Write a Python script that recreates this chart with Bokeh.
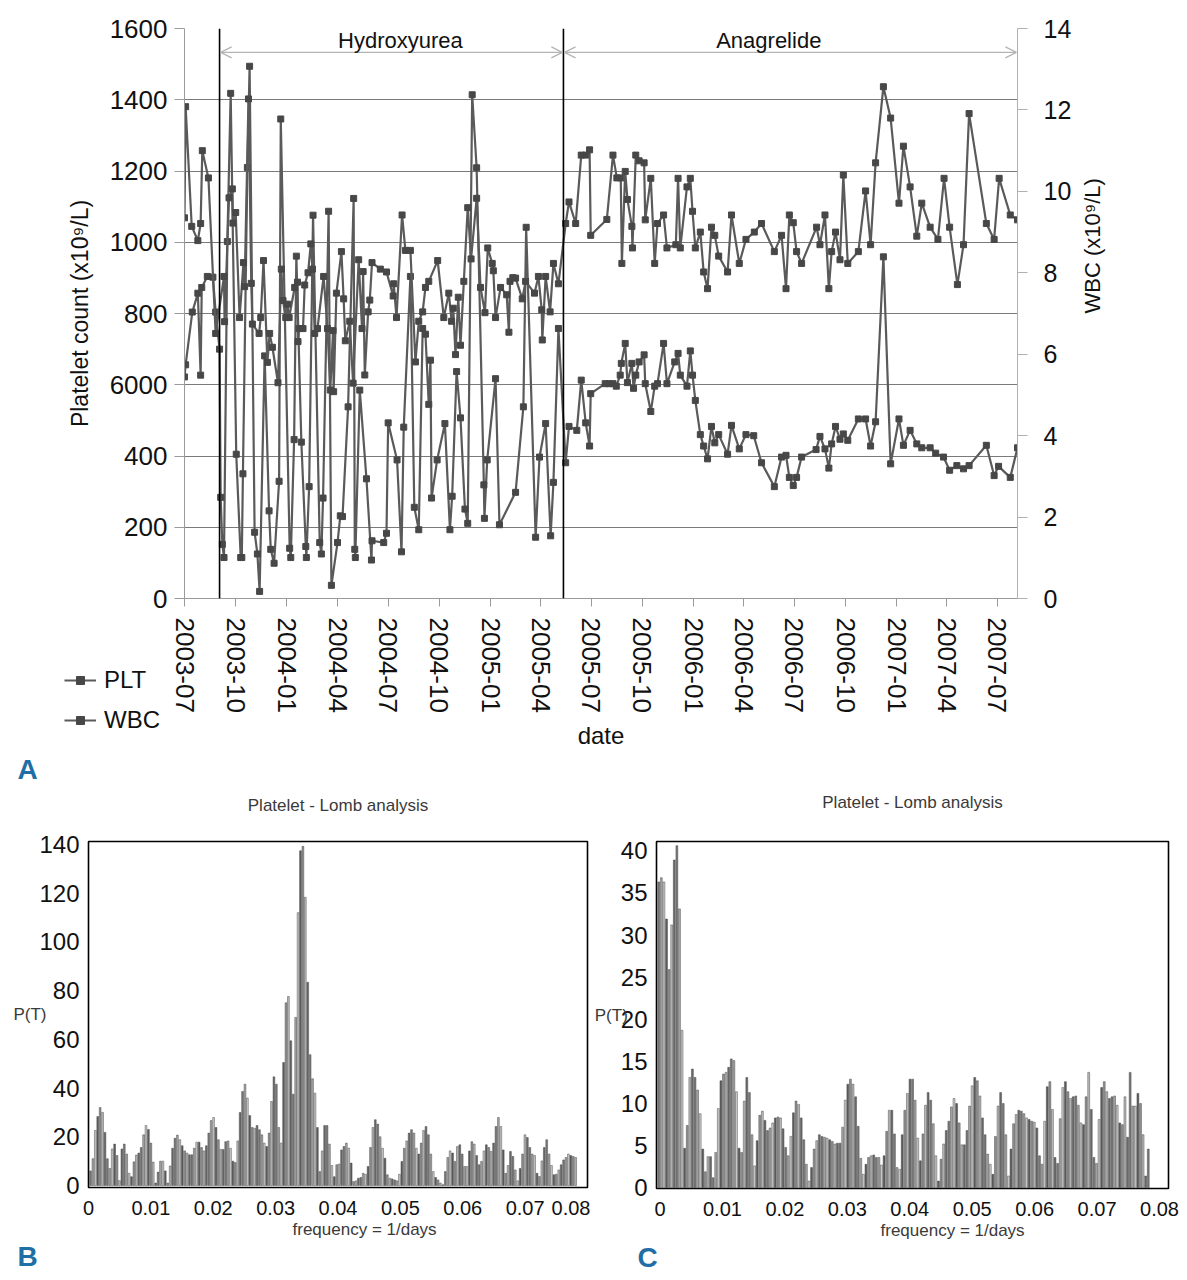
import math
import numpy as np
import pandas as pd
from bokeh.plotting import figure
from bokeh.models import (Range1d, LinearAxis, FixedTicker, Span, Label, Arrow, OpenHead,
                          Legend, LegendItem, Title)
from bokeh.layouts import column, row
from bokeh.embed import file_html
from bokeh.resources import INLINE

FONT = "Liberation Sans"

# ---------------- data: panel A ----------------
start_date = "2003-07-01"
hu_start_date = "2003-09-02"
ana_start_date = "2005-05-12"
end_date = "2007-08-06"
tick_labels = ["2003-07", "2003-10", "2004-01", "2004-04", "2004-07", "2004-10",
               "2005-01", "2005-04", "2005-07", "2005-10", "2006-01", "2006-04",
               "2006-07", "2006-10", "2007-01", "2007-04", "2007-07"]

# days after start_date
plt_day = [0, 2, 14, 24, 29, 31, 41, 51, 56, 63, 65, 68, 71, 77, 83, 93, 101, 103, 105, 113,
           117, 126, 131, 135, 144, 152, 155, 161, 170, 173, 189, 191, 197, 201, 210, 218, 219, 224, 231, 243,
           246, 249, 259, 264, 275, 280, 284, 294, 304, 306, 307, 315, 327, 336, 337, 358, 363, 366, 382, 390,
           394, 406, 413, 421, 428, 433, 439, 442, 444, 454, 468, 477, 481, 489, 496, 504, 509, 517, 525, 538,
           539, 544, 559, 566, 595, 609, 614, 631, 638, 649, 658, 663, 672,
           685, 691, 705, 713, 721, 728, 730, 756, 763, 770, 776, 783, 785, 792, 796, 804, 807, 811, 817, 826,
           828, 838, 845, 850, 861, 867, 881, 887, 891, 903, 909, 913, 918, 927, 933, 940, 947, 953, 960, 976,
           983, 997, 1009, 1023, 1037, 1060, 1073, 1081, 1087, 1094, 1100, 1109, 1135, 1142, 1151, 1158, 1163,
           1170, 1178, 1184, 1192, 1211, 1224, 1233, 1242, 1256, 1269, 1284, 1292, 1304, 1316, 1325, 1340, 1350,
           1364, 1375, 1388, 1400, 1410, 1441, 1455, 1463, 1484, 1497]
plt_val = [622, 656, 804, 857, 627, 873, 904, 902, 804, 700, 284, 152, 115, 1002, 1418, 405, 115, 115, 350, 1210,
           1494, 186, 125, 20, 681, 246, 138, 99, 329, 1346, 141, 115, 446, 961, 439, 146, 115, 314, 1076, 157,
           125, 282, 1087, 37, 157, 232, 230, 538, 1123, 138, 115, 585, 336, 108, 162, 157, 183, 493, 389, 131,
           481, 904, 256, 193, 758, 742, 545, 669, 282, 389, 491, 193, 287, 637, 507, 251, 211, 1414, 1209, 319,
           225, 389, 617, 207, 298, 538, 1042, 172, 397, 491, 176, 326, 758,
           381, 483, 472, 613, 493, 428, 575, 603, 603, 603, 596, 627, 660, 716, 606, 660, 590, 627, 664, 684,
           603, 525, 596, 603, 716, 603, 664, 688, 627, 596, 695, 627, 556, 460, 428, 392, 483, 437, 460, 405,
           486, 420, 460, 457, 381, 314, 397, 402, 340, 317, 340, 397, 418, 455, 420, 366, 434, 483, 447, 462,
           444, 504, 504, 428, 496, 959, 378, 504, 430, 472, 434, 423, 423, 408, 397, 360, 373, 364, 373, 430,
           345, 371, 340, 423]

wbc_day = [0, 2, 13, 24, 29, 32, 43, 56,
           71, 72, 80, 86, 87, 92, 99, 106, 108, 115, 120, 122, 134, 137, 142, 149, 153, 158, 168, 174,
           177, 182, 185, 188, 198, 203, 204, 206, 213, 216, 222, 227, 230, 234, 239, 250, 257, 262, 267, 268,
           273, 282, 286, 289, 297, 303, 313, 319, 321, 324, 330, 333, 337, 352, 363, 375, 376, 381, 391, 397,
           406, 415, 421, 428, 433, 439, 455, 466, 475, 480, 483, 487, 492, 496, 502, 509, 515, 525, 532, 540,
           545, 553, 555, 559, 568, 579, 583, 585, 590, 595, 607, 613, 629, 636, 642, 643, 649, 657, 663, 672,
           685, 691, 703, 713, 721, 728, 730, 759, 770, 777, 784, 786, 792, 796, 804, 805, 811, 817, 826, 828,
           838, 845, 850, 861, 867, 883, 887, 891, 903, 909, 913, 918, 927, 933, 940, 947, 953, 960, 976, 983,
           997, 1009, 1024, 1037, 1060, 1073, 1081, 1087, 1094, 1100, 1109, 1136, 1142, 1151, 1158, 1163, 1170,
           1178, 1184, 1192, 1211, 1224, 1233, 1242, 1256, 1269, 1284, 1292, 1304, 1316, 1325, 1340, 1354, 1365,
           1375, 1389, 1400, 1410, 1441, 1455, 1464, 1484, 1497]
wbc_val = [9.35, 12.08, 9.14, 8.79, 9.21, 11.0, 10.33, 6.51,
           7.91, 6.8, 9.84, 10.06, 9.22, 9.48, 6.9, 8.25, 7.66, 12.27, 7.74, 6.74, 6.51, 6.9, 8.3, 5.8, 6.51,
           6.17, 5.3, 8.09, 7.32, 6.9, 7.23, 6.9, 7.64, 7.77, 6.31, 6.63, 6.63, 7.7, 8.0, 8.71, 8.09, 6.51, 6.63,
           7.91, 6.63, 5.12, 6.58, 5.08, 7.5, 8.52, 7.36, 6.33, 6.81, 5.29, 8.32, 6.63, 8.03, 5.49, 7.04, 7.33,
           8.25, 8.09, 8.02, 7.43, 7.73, 6.9, 9.42, 8.55, 8.55, 5.81, 6.81, 7.04, 7.64, 7.79, 8.3, 6.9, 7.5, 6.81,
           7.13, 5.99, 7.4, 6.22, 7.79, 9.6, 8.34, 9.83, 7.64, 7.02, 8.61, 8.23, 8.05, 6.9, 7.64, 7.46, 6.54,
           7.79, 7.88, 7.87, 7.36, 7.79, 7.5, 7.91, 7.09, 6.35, 7.91, 7.04, 8.23, 7.73,
           9.21, 9.74, 9.21, 10.89, 10.89, 11.02, 8.92, 9.31, 10.89, 10.33, 10.33, 8.23, 10.49, 9.8, 9.14, 8.61,
           10.89, 10.75, 10.7, 9.3, 10.32, 8.23, 9.21, 9.42, 8.61, 8.69, 10.32, 8.61, 10.11, 10.32, 9.51, 8.61,
           9.0, 8.02, 7.61, 9.12, 8.92, 8.41, 8.02, 9.42, 8.23, 8.82, 9.0, 9.21, 8.52, 8.92, 7.61, 9.42, 9.23,
           8.52, 8.23, 9.12, 8.69, 9.42, 7.61, 8.52, 9.0, 8.32, 10.4, 8.23, 8.52, 10.01, 8.69, 10.7, 12.57, 11.8,
           9.71, 11.11, 10.11, 8.9, 9.71, 9.12, 8.82, 10.32, 9.12, 7.71, 8.69, 11.91, 9.21, 8.82, 10.32, 9.42, 9.3]

plt_ticks = [0, 200, 400, 600, 800, 1000, 1200, 1400, 1600]
plt_tick_text = ["0", "200", "400", "6000", "800", "1000", "1200", "1400", "1600"]
wbc_ticks = [0, 2, 4, 6, 8, 10, 12, 14]
series_names = ["PLT", "WBC"]

# ---------------- data: panels B and C (Lomb periodogram) ----------------
freq_B_first, freq_B_last = 0.00032, 0.0781
power_B = [6, 11, 22.6, 28.3, 32, 30, 21.8, 11, 7, 15,
           17, 12.3, 2, 15, 17, 12.9, 5, 3.6, 9.7, 12.5,
           13.3, 15.6, 20.8, 24.6, 23, 17.4, 9.6, 1, 5.5, 10,
           10, 6, 1, 8, 15.3, 19.4, 20.7, 18.8, 16.3, 14.2,
           13.3, 12.6, 12.6, 15.3, 17.8, 17.8, 15.6, 14.2, 16.3, 21.5,
           26.7, 27.9, 23.8, 18.8, 14.8, 14.8, 18, 18.3, 15.3, 10,
           9.4, 18.3, 30, 38.6, 41.6, 35.9, 28.7, 23.8, 23.5, 24.6,
           22.9, 20.8, 17.4, 16, 21.5, 34.5, 44.6, 41.6, 23.8, 17.4,
           50.5, 75, 77.6, 59.4, 37.5, 69, 112, 137.4, 139.2, 118.3,
           83.4, 53.7, 43.8, 37.9, 23.8, 5.7, 14.2, 24.6, 24.6, 17,
           8.2, 3.6, 8.5, 8.8,
           14.6, 16, 17.4, 15.3, 9.2, 1.6, 1.9, 3, 3.3, 5,
           4.6, 7.8, 15.6, 23.8, 27, 25.2, 20, 15.3, 11.2, 4.4,
           3, 2.7, 2.3, 1.9, 4.6, 9.9, 15.3, 18.3, 21.5, 22.9,
           21.5, 15.3, 12.9, 17.4, 22.6, 24.2, 20.8, 12.9, 5.7, 3.3,
           2.3, 1, 0.3, 5.7, 11.5, 14.2, 13.3, 9.9, 16, 16.7,
           12.9, 7.8, 7.8, 14.2, 18, 17, 12.3, 8.5, 9.9, 14.2,
           16.7, 15.6, 14, 17.4, 24.2, 27.9, 24.2, 14.6, 5, 8.2,
           14, 11.9, 6.4, 1.9, 7, 12.9, 20.8, 19.7, 15.6, 12.9,
           12.3, 5, 3.7, 10.1, 15.6, 18.8, 12.9, 8.2, 4.4, 4.6,
           6.4, 8.5, 10.5, 11.5, 12.9, 12.3, 11.9, 11.5]

freq_C_first, freq_C_last = -0.0002, 0.0782
power_C = [36.3, 36.8, 36.3, 31.9, 25.9, 31.2, 38.9, 40.6, 33.1, 18.7,
           4.7, 7.4, 13.1, 14.1, 13.1, 11.6, 8.8, 4.6, 1.9, 3.7,
           3.7, 1.2, 4.2, 9.4, 12.7, 13.5, 13.7, 14.3, 15.3, 15.1,
           11.4, 4.7, 4.2, 10.3, 13.1, 11.3, 6.3, 2.6, 5.6, 8.6,
           9.1, 8, 6.8, 7.1, 7.7, 8.3, 8.4, 8.3, 7, 4.8,
           3.8, 6.1, 8.9, 10.3, 9.9, 8.3, 5.7, 2.8, 0.8, 2.4,
           4.6, 5.6, 6.3, 6.1, 6, 5.9, 5.7, 5.5, 5.2, 5.3,
           5.3, 7.2, 10.4, 12.3, 12.9, 12.3, 10.8, 7.3, 3.5, 1.6,
           2.8, 3.6, 3.8, 3.9, 3.6, 3.6, 2.7, 3.8, 6.7, 9.2,
           9.2, 6.4, 2.4, 2.2, 6.3, 9.2, 11.2,
           12.9, 12.9, 10.4, 5.9, 3.2, 6.4, 9.8, 11.3, 10.4, 7.6,
           3.8, 0.8, 3.4, 5.2, 6.8, 7.9, 9.6, 10.6, 10, 7.7,
           5.1, 5.1, 6.8, 9.7, 12.1, 13.1, 12.7, 10.9, 8.3, 6.3,
           4, 2.8, 1.6, 6.1, 9.7, 11.3, 10, 6.3, 1.4, 4.6,
           7.6, 8.7, 9.2, 9.1, 8.8, 8.3, 8.1, 7.9, 7.8, 7.1,
           3.8, 2.8, 7.9, 12, 12.6, 9.3, 3.6, 2.9, 8.2, 11.9,
           12.6, 11.4, 10.6, 10.8, 10.9, 9.8, 7.7, 7.5, 10.8, 13.7,
           9.3, 3.6, 2.9, 8.1, 11.9, 12.6, 11.4, 10.6, 10.8, 10.9,
           9.8, 7.7, 7.5, 10.8, 6, 13.7, 9.7, 9.7, 11.2, 10,
           6.3, 1.4, 4.6]
freq_ticks = [0, 0.01, 0.02, 0.03, 0.04, 0.05, 0.06, 0.07, 0.08]
freq_tick_text = ["0", "0.01", "0.02", "0.03", "0.04", "0.05", "0.06", "0.07", "0.08"]

# ---------------- helpers ----------------
base = pd.Timestamp(start_date)


def day_of(d):
    return (pd.Timestamp(d) - base).days


tick_days = [day_of(t + "-01") for t in tick_labels]
hu_day = day_of(hu_start_date)
ana_day = day_of(ana_start_date)
end_day = day_of(end_date)

LINE = "#5a5a5a"
MARK = "#474747"
BLUE = "#1f6ea6"
TXT = "#111111"

# ---------------- panel A ----------------
pA = figure(frame_width=833, frame_height=570, x_range=Range1d(0, end_day),
            y_range=Range1d(0, 1600), output_backend="svg", toolbar_location=None,
            min_border_left=184, min_border_right=162, min_border_top=28, min_border_bottom=183,
            background_fill_color="white", border_fill_color="white")
pA.outline_line_color = None
pA.extra_y_ranges = {"wbc": Range1d(0, 14)}

pA.xgrid.visible = False
pA.ygrid.ticker = FixedTicker(ticks=plt_ticks)
pA.ygrid.grid_line_color = "#7a7a7a"
pA.ygrid.grid_line_width = 1.2

ya = pA.yaxis[0]
ya.ticker = FixedTicker(ticks=plt_ticks)
ya.major_label_overrides = dict(zip(plt_ticks, plt_tick_text))
ya.axis_label = "Platelet count (x10\u2079/L)"
ya.axis_label_text_font = FONT
ya.axis_label_text_font_size = "23px"
ya.axis_label_text_font_style = "normal"
ya.axis_label_text_color = TXT
ya.axis_label_standoff = 14
ya.major_label_text_font = FONT
ya.major_label_text_font_size = "26px"
ya.major_label_text_color = TXT
ya.major_label_standoff = 7
ya.major_tick_out = 10
ya.major_tick_in = 0
ya.minor_tick_line_color = None
ya.axis_line_color = "#9a9a9a"
ya.major_tick_line_color = "#9a9a9a"

xa = pA.xaxis[0]
xa.ticker = FixedTicker(ticks=tick_days)
xa.major_label_overrides = dict(zip(tick_days, tick_labels))
xa.major_label_orientation = "vertical"
xa.major_label_text_font = FONT
xa.major_label_text_font_size = "26px"
xa.major_label_text_color = TXT
xa.major_label_standoff = 11
xa.major_tick_out = 8
xa.major_tick_in = 0
xa.minor_tick_line_color = None
xa.axis_line_color = "#9a9a9a"
xa.major_tick_line_color = "#9a9a9a"
xa.axis_label = "date"
xa.axis_label_text_font = FONT
xa.axis_label_text_font_size = "24px"
xa.axis_label_text_font_style = "normal"
xa.axis_label_text_color = TXT
xa.axis_label_standoff = 6

ra = LinearAxis(y_range_name="wbc", ticker=FixedTicker(ticks=wbc_ticks))
ra.axis_label = "WBC (x10\u2079/L)"
ra.axis_label_orientation = math.pi / 2
ra.axis_label_text_font = FONT
ra.axis_label_text_font_size = "22px"
ra.axis_label_text_font_style = "normal"
ra.axis_label_text_color = TXT
ra.axis_label_standoff = 18
ra.major_label_text_font = FONT
ra.major_label_text_font_size = "25px"
ra.major_label_text_color = TXT
ra.major_label_standoff = 16
ra.major_tick_out = 10
ra.major_tick_in = 0
ra.minor_tick_line_color = None
ra.axis_line_color = "#b0b0b0"
ra.major_tick_line_color = "#b0b0b0"
pA.add_layout(ra, "right")

pA.add_layout(Span(location=hu_day, dimension="height", line_color="black", line_width=1.6))
pA.add_layout(Span(location=ana_day, dimension="height", line_color="black", line_width=1.6))

arrow_y = 1533
for xs, xe in [(hu_day, ana_day), (ana_day, end_day)]:
    pA.add_layout(Arrow(x_start=xs + 2, y_start=arrow_y, x_end=xe - 2, y_end=arrow_y,
                        line_color="#b4b4b4", line_width=1.2,
                        start=OpenHead(size=11, line_color="#b4b4b4", line_width=1.2),
                        end=OpenHead(size=11, line_color="#b4b4b4", line_width=1.2)))
pA.add_layout(Label(x=388, y=1566, text="Hydroxyurea", text_align="center", text_baseline="middle",
                    text_font=FONT, text_font_size="22px", text_color=TXT))
pA.add_layout(Label(x=1050, y=1566, text="Anagrelide", text_align="center", text_baseline="middle",
                    text_font=FONT, text_font_size="22px", text_color=TXT))

r_pl = pA.line(plt_day, plt_val, line_color=LINE, line_width=2.2)
r_pm = pA.scatter(plt_day, plt_val, marker="square", size=6, fill_color=MARK, line_color=MARK)
r_wl = pA.line(wbc_day, wbc_val, line_color=LINE, line_width=2.2, y_range_name="wbc")
r_wm = pA.scatter(wbc_day, wbc_val, marker="square", size=6, fill_color=MARK, line_color=MARK,
                  y_range_name="wbc")

# legend lives in the right side panel (not clipped), drawn at the lower left of the page
legend = Legend(items=[LegendItem(label=series_names[0], renderers=[r_pl, r_pm]),
                       LegendItem(label=series_names[1], renderers=[r_wl, r_wm])],
                location=(-1290, -136), orientation="vertical")
legend.label_text_font = FONT
legend.label_text_font_size = "24px"
legend.label_text_color = TXT
legend.glyph_width = 32
legend.glyph_height = 20
legend.spacing = 12
legend.padding = 0
legend.margin = 0
legend.label_standoff = 8
legend.border_line_color = None
legend.background_fill_alpha = 0
pA.add_layout(legend, "right")

pA.add_layout(Title(text="A", align="left", offset=-167, text_font=FONT, text_font_size="28px",
                    text_font_style="bold", text_color=BLUE, standoff=0), "below")

# ---------------- panels B and C ----------------
shade_cycle = ["#7a7a7a", "#a8a8a8", "#cfcfcf", "#5c5c5c", "#939393", "#bdbdbd", "#6a6a6a"]


def lomb_panel(freq, power, bar_w, x_rng, y_rng, y_ticks, fw, fh, borders, gap_font,
               xlabel_offset, letter, letter_offset):
    bl, br, bt, bb = borders
    p = figure(frame_width=fw, frame_height=fh, x_range=Range1d(*x_rng), y_range=Range1d(*y_rng),
               output_backend="svg", toolbar_location=None, min_border_left=bl,
               min_border_right=br, min_border_top=bt, min_border_bottom=bb,
               background_fill_color="white", border_fill_color="white")
    p.add_layout(Title(text="\u00a0", text_font=FONT, text_font_size=gap_font, standoff=0), "above")
    p.add_layout(Title(text="Platelet - Lomb analysis", align="center", text_font=FONT,
                       text_font_size="17px", text_font_style="normal", text_color="#3a3a3a",
                       standoff=0), "above")
    p.grid.visible = False
    p.outline_line_color = "black"
    p.outline_line_width = 1.6
    colors = list(np.resize(shade_cycle, len(power)))
    p.vbar(x=freq, top=power, bottom=0, width=bar_w, fill_color=colors,
           line_color="#4a4a4a", line_width=0.5)
    xa_ = p.xaxis[0]
    xa_.ticker = FixedTicker(ticks=freq_ticks)
    xa_.major_label_overrides = dict(zip(freq_ticks, freq_tick_text))
    xa_.major_label_text_font = FONT
    xa_.major_label_text_font_size = "20px"
    xa_.major_label_text_color = TXT
    xa_.major_label_standoff = 13
    xa_.major_tick_out = 0
    xa_.major_tick_in = 0
    xa_.axis_line_color = None
    xa_.major_tick_line_color = None
    xa_.minor_tick_line_color = None
    p.add_layout(Title(text="frequency = 1/days", align="left", offset=xlabel_offset, text_font=FONT,
                       text_font_size="17px", text_font_style="normal", text_color="#3a3a3a",
                       standoff=0), "below")
    ya_ = p.yaxis[0]
    ya_.ticker = FixedTicker(ticks=y_ticks)
    ya_.major_label_text_font = FONT
    ya_.major_label_text_font_size = "24px"
    ya_.major_label_text_color = TXT
    ya_.major_label_standoff = 9
    ya_.major_tick_out = 0
    ya_.major_tick_in = 0
    ya_.axis_line_color = None
    ya_.major_tick_line_color = None
    ya_.minor_tick_line_color = None
    ya_.axis_label = "P(T)"
    ya_.axis_label_orientation = "horizontal"
    ya_.axis_label_text_font = FONT
    ya_.axis_label_text_font_size = "17px"
    ya_.axis_label_text_font_style = "normal"
    ya_.axis_label_text_color = "#3a3a3a"
    ya_.axis_label_standoff = -10
    p.add_layout(Title(text=letter, align="left", offset=letter_offset, text_font=FONT,
                       text_font_size="28px", text_font_style="bold", text_color=BLUE,
                       standoff=0), "below")
    return p


freq_B = np.linspace(freq_B_first, freq_B_last, len(power_B))
freq_C = np.linspace(freq_C_first, freq_C_last, len(power_C))

pB = lomb_panel(freq_B, power_B, 0.00028, (0, 0.08), (-0.82, 141.2), [0, 20, 40, 60, 80, 100, 120, 140],
                499, 346, (88, 3, 57, 92), "22px", 204, "B", -71)
pC = lomb_panel(freq_C, power_C, 0.0003, (-0.00056, 0.08144), (-0.08, 41.1),
                [0, 5, 10, 15, 20, 25, 30, 35, 40],
                512, 347, (66, 11, 52, 94), "25px", 224, "C", -19)

layout = column(pA, row(pB, pC))
open("out.html", "w").write(file_html(layout, INLINE))
